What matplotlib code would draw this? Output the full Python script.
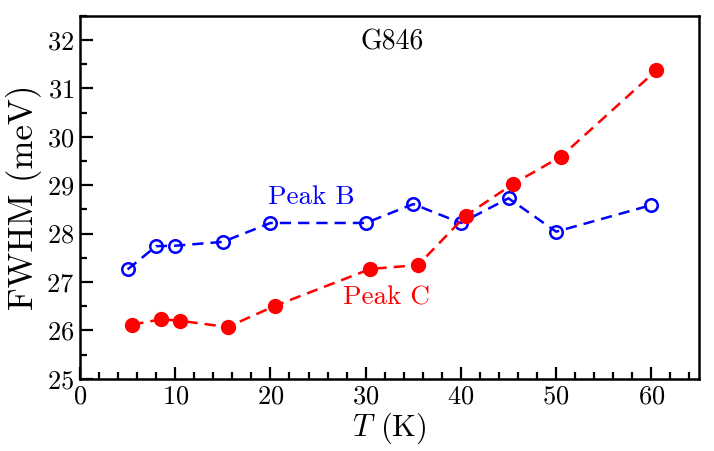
import matplotlib
matplotlib.use("Agg")
import matplotlib.pyplot as plt
from matplotlib.ticker import MultipleLocator

plt.rcParams["font.family"] = "serif"
plt.rcParams["font.serif"] = ["cmr10", "DejaVu Serif"]
plt.rcParams["mathtext.fontset"] = "cm"
plt.rcParams["axes.formatter.use_mathtext"] = True

# Peak B (open blue circles)
temp_b = [5, 8, 10, 15, 20, 30, 35, 40, 45, 50, 60]
fwhm_b = [27.26, 27.74, 27.75, 27.83, 28.22, 28.22, 28.61, 28.22, 28.73, 28.04, 28.59]

# Peak C (filled red circles)
temp_c = [5.5, 8.5, 10.5, 15.5, 20.5, 30.5, 35.5, 40.5, 45.5, 50.5, 60.5]
fwhm_c = [26.12, 26.23, 26.20, 26.07, 26.51, 27.27, 27.35, 28.37, 29.03, 29.59, 31.37]

fig = plt.figure(figsize=(7.14, 4.51), dpi=100)
ax = fig.add_axes([0.112, 0.160, 0.867, 0.805])

ax.plot(temp_b, fwhm_b, "--o", color="blue", mfc="none", mec="blue",
        mew=1.8, ms=9, lw=1.8, dashes=(4.5, 2.8))
ax.plot(temp_c, fwhm_c, "--o", color="red", mfc="red", mec="red",
        ms=10, lw=1.8, dashes=(4.5, 2.8))

ax.text(32.8, 31.96, "G846", ha="center", va="center", fontsize=20)
ax.text(24.3, 28.76, "Peak B", ha="center", va="center", fontsize=19.5, color="blue")
ax.text(32.2, 26.67, "Peak C", ha="center", va="center", fontsize=19.5, color="red")

ax.set_xlim(0, 65)
ax.set_ylim(25, 32.5)
ax.xaxis.set_major_locator(MultipleLocator(10))
ax.xaxis.set_minor_locator(MultipleLocator(2))
ax.yaxis.set_major_locator(MultipleLocator(1))
ax.yaxis.set_minor_locator(MultipleLocator(0.5))
ax.tick_params(which="both", direction="in", top=False, right=False,
               width=1.6, labelsize=19, pad=4)
ax.tick_params(which="major", length=9)
ax.tick_params(which="minor", length=5)
for s in ax.spines.values():
    s.set_linewidth(1.8)

ax.set_xlabel("$T$ (K)", fontsize=22, labelpad=2)
ax.set_ylabel("FWHM (meV)", fontsize=25, labelpad=3)

fig.savefig("out.png", dpi=100)
